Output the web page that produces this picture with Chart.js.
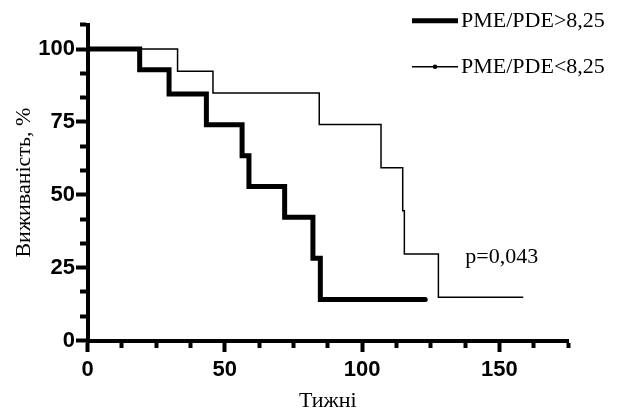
<!DOCTYPE html>
<html>
<head>
<meta charset="utf-8">
<script src="https://cdn.jsdelivr.net/npm/chart.js@4"></script>
<style>
  html, body { margin: 0; padding: 0; background: #fff; }
  #wrap { width: 621px; height: 412px; }
</style>
</head>
<body>
<div id="wrap"><canvas id="km" width="621" height="412"></canvas></div>
<script>
// ---- data ----
const highLabel = 'PME/PDE>8,25';
const highWeeks = [0, 19, 29.7, 43.3, 56.3, 58.8, 71.8, 82.1, 84.8, 123];
const highSurv  = [100, 92.9, 84.6, 74.0, 63.4, 52.8, 42.3, 28.2, 14.1, 14.1];

const lowLabel = 'PME/PDE<8,25';
const lowWeeks = [0, 32.8, 45.7, 84.4, 106.9, 114.8, 115.4, 127.8, 158.7];
const lowSurv  = [100, 92.4, 84.9, 74.1, 59.3, 44.5, 29.7, 14.8, 14.8];

const xLabels = [0, 50, 100, 150];
const yLabels = [0, 25, 50, 75, 100];
const xMinorStep = 12.5;
const yMinorStep = 25 / 3;
const pText = 'p=0,043';

const SERIF = '"Liberation Serif", "Times New Roman", serif';
const SANS = '"Liberation Sans", Arial, sans-serif';

function pairs(xs, ys) { return xs.map((x, i) => ({ x: x, y: ys[i] })); }

// legend + p value drawn on top, positions taken from the scales
const extras = {
  id: 'extras',
  afterDraw(chart) {
    const c = chart.ctx;
    const ds = chart.data.datasets;
    c.save();
    c.font = '22px ' + SERIF;
    c.fillStyle = '#000';
    c.textBaseline = 'middle';
    const rows = [20.7, 66.7];
    ds.forEach((d, i) => {
      const y = rows[i];
      c.strokeStyle = '#000';
      c.lineWidth = d.borderWidth;
      c.beginPath(); c.moveTo(412, y); c.lineTo(458, y); c.stroke();
      if (i === 1) { c.beginPath(); c.arc(435, y, 2.3, 0, Math.PI * 2); c.fill(); }
      c.fillText(d.label, 461, y + 1);
    });
    const xs = chart.scales.x, ys = chart.scales.y;
    c.fillText(pText, xs.getPixelForValue(137.6), ys.getPixelForValue(28.4));
    c.restore();
  }
};

new Chart(document.getElementById('km'), {
  type: 'line',
  data: {
    datasets: [
      { label: highLabel, data: pairs(highWeeks, highSurv), stepped: 'before',
        borderColor: '#000', borderWidth: 5, borderCapStyle: 'round', borderJoinStyle: 'miter',
        pointRadius: 0, fill: false },
      { label: lowLabel, data: pairs(lowWeeks, lowSurv), stepped: 'before',
        borderColor: '#000', borderWidth: 1.5, borderJoinStyle: 'miter',
        pointRadius: 0, fill: false }
    ]
  },
  options: {
    responsive: false,
    animation: false,
    layout: { padding: { top: 24.7, right: 53, left: 0, bottom: 0 } },
    plugins: { legend: { display: false }, tooltip: { enabled: false } },
    scales: {
      x: {
        type: 'linear', min: 0, max: 175,
        afterFit(s) { s.height = 71.5; },
        afterBuildTicks(s) {
          const t = [];
          for (let i = 0; i * xMinorStep <= 175 + 1e-6; i++) t.push({ value: i * xMinorStep });
          s.ticks = t;
        },
        border: { display: true, color: '#000', width: 4 },
        grid: {
          drawOnChartArea: false, drawTicks: true, tickLength: 11.5, tickWidth: 4, tickColor: '#000',
          tickBorderDash: (ctx) => xLabels.includes(ctx.tick && ctx.tick.value) ? [] : [5, 40]
        },
        ticks: {
          color: '#000', padding: 5, maxRotation: 0, autoSkip: false,
          font: { family: SANS, size: 22, weight: 'bold' },
          callback: (v) => xLabels.includes(v) ? String(v) : ''
        },
        title: { display: true, text: 'Тижні', color: '#000', padding: 0,
          font: { family: SERIF, size: 22, lineHeight: 1 } }
      },
      y: {
        type: 'linear', min: 0, max: 108.34,
        afterFit(s) { s.width = 87.5; },
        afterBuildTicks(s) {
          const t = [];
          for (let i = 0; i <= 13; i++) t.push({ value: (i * 25) / 3 });
          s.ticks = t;
        },
        border: { display: true, color: '#000', width: 4 },
        grid: {
          drawOnChartArea: false, drawTicks: true, tickLength: 11.5, tickWidth: 4, tickColor: '#000',
          tickBorderDash: (ctx) => yLabels.includes(ctx.tick && ctx.tick.value) ? [] : [0, 4, 6, 40]
        },
        ticks: {
          color: '#000', padding: 1, autoSkip: false,
          font: { family: SANS, size: 22, weight: 'bold' },
          callback: (v) => yLabels.includes(v) ? String(v) : ''
        },
        title: { display: true, text: 'Виживаність, %', color: '#000', padding: { top: 13, bottom: 0 },
          font: { family: SERIF, size: 22, lineHeight: 1 } }
      }
    }
  },
  plugins: [extras]
});
</script>
</body>
</html>
